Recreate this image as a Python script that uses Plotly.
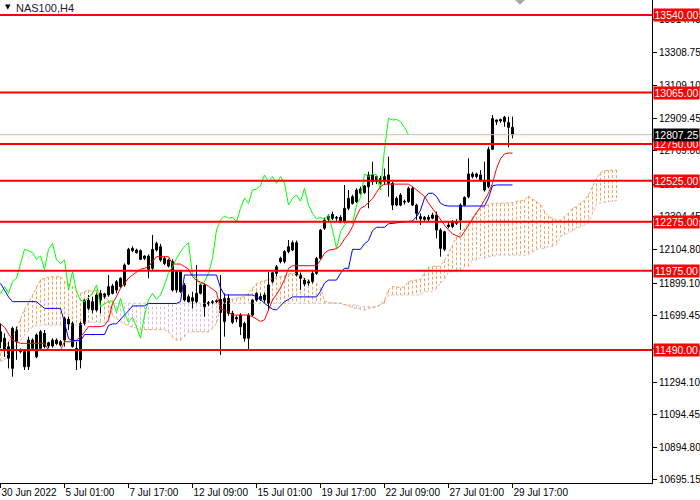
import plotly.graph_objects as go

# NAS100 H4 candles, one entry per bar (left to right)
opens = [
    11602, 11562, 11440, 11378, 11541, 11490, 11480, 11388, 11500, 11449,
    11500, 11592, 11515, 11515, 11551, 11521, 11551, 11678, 11653, 11500,
    11429, 11653, 11745, 11786, 11735, 11837, 11816, 11827, 11882, 11857,
    11878, 11888, 12016, 12112, 12102, 12098, 12049, 12065, 11990, 12102,
    12122, 12051, 12004, 12031, 11857, 11969, 11888, 11816, 11790, 11786,
    11837, 11888, 11780, 11780, 11786, 11800, 11664, 11806, 11715, 11680,
    11704, 11653, 11562, 11704, 11796, 11817, 11796, 11776, 11908, 11959,
    12031, 12031, 12092, 12102, 12147, 11949, 11918, 11900, 11908, 11959,
    12051, 12235, 12290, 12320, 12296, 12302, 12275, 12357, 12428, 12398,
    12449, 12453, 12489, 12561, 12520, 12540, 12520, 12561, 12510, 12377,
    12377, 12395, 12398, 12479, 12377, 12306, 12290, 12302, 12296, 12316,
    12224, 12106, 12245, 12245, 12275, 12286, 12377, 12428, 12567, 12551,
    12530, 12520, 12489, 12718, 12887, 12891, 12914, 12881, 12852]
highs = [
    11653, 11592, 11541, 11633, 11633, 11500, 11490, 11572, 11562, 11592,
    11613, 11613, 11541, 11562, 11562, 11551, 11694, 11694, 11664, 11541,
    11664, 11800, 11827, 11816, 11837, 11857, 11840, 11949, 11895, 11918,
    11935, 12020, 12115, 12125, 12110, 12106, 12070, 12075, 12194, 12153,
    12140, 12060, 12050, 12045, 11975, 11980, 11900, 11830, 11847, 12010,
    11895, 11898, 11790, 11796, 11800, 11949, 11837, 11830, 11730, 11700,
    11715, 11664, 11715, 11800, 11845, 11835, 11840, 11969, 11969, 12010,
    12061, 12102, 12163, 12160, 12160, 11965, 11930, 11920, 11980, 12060,
    12230, 12300, 12320, 12337, 12310, 12315, 12500, 12469, 12440, 12480,
    12490, 12500, 12581, 12642, 12560, 12555, 12600, 12673, 12520, 12430,
    12450, 12410, 12490, 12490, 12385, 12326, 12310, 12315, 12330, 12337,
    12235, 12220, 12275, 12285, 12290, 12387, 12430, 12663, 12580, 12575,
    12591, 12642, 12734, 12928, 12900, 12905, 12922, 12918, 12918]
lows = [
    11500, 11449, 11378, 11327, 11430, 11470, 11368, 11368, 11490, 11440,
    11490, 11500, 11500, 11505, 11520, 11511, 11511, 11613, 11505, 11368,
    11378, 11640, 11735, 11715, 11725, 11715, 11805, 11816, 11830, 11837,
    11870, 11878, 12010, 12090, 12080, 12041, 12040, 11929, 11980, 12092,
    12030, 12010, 11995, 11847, 11840, 11840, 11786, 11780, 11745, 11776,
    11830, 11694, 11760, 11770, 11776, 11460, 11572, 11700, 11650, 11660,
    11582, 11541, 11490, 11694, 11786, 11790, 11780, 11735, 11898, 11940,
    12020, 12020, 12082, 12095, 11940, 11857, 11880, 11885, 11898, 11950,
    12045, 12225, 12280, 12285, 12280, 12265, 12265, 12345, 12380, 12390,
    12440, 12445, 12357, 12500, 12505, 12500, 12500, 12428, 12347, 12370,
    12370, 12380, 12390, 12370, 12286, 12255, 12280, 12280, 12290, 12173,
    12061, 12095, 12235, 12235, 12255, 12224, 12370, 12418, 12540, 12540,
    12520, 12459, 12479, 12714, 12867, 12880, 12856, 12730, 12785]
closes = [
    11541, 11490, 11511, 11623, 11613, 11480, 11388, 11551, 11551, 11582,
    11602, 11511, 11535, 11551, 11530, 11541, 11684, 11649, 11511, 11429,
    11653, 11796, 11796, 11735, 11827, 11796, 11833, 11878, 11837, 11908,
    11929, 12010, 12106, 12098, 12086, 12045, 12065, 11984, 12106, 12143,
    12041, 12020, 12041, 11857, 11969, 11847, 11796, 11786, 11810, 11837,
    11888, 11755, 11772, 11786, 11792, 11720, 11806, 11715, 11660, 11690,
    11633, 11562, 11704, 11796, 11837, 11800, 11827, 11888, 11963, 11999,
    12051, 12092, 12122, 12147, 11949, 11929, 11894, 11908, 11959, 12051,
    12224, 12285, 12310, 12296, 12302, 12275, 12357, 12418, 12387, 12469,
    12475, 12494, 12561, 12520, 12551, 12510, 12551, 12510, 12377, 12418,
    12438, 12400, 12479, 12377, 12326, 12292, 12302, 12290, 12316, 12224,
    12112, 12214, 12255, 12275, 12265, 12377, 12424, 12567, 12551, 12567,
    12561, 12469, 12718, 12907, 12897, 12901, 12887, 12852, 12807.25]

# Ichimoku lines
tenkan = [
    11649, 11630, 11590, 11550, 11541, 11531, 11531, 11531, 11531, 11531,
    11531, 11531, 11490, 11490, 11490, 11490, 11541, 11541, 11541, 11551,
    11572, 11600, 11633, 11633, 11633, 11633, 11640, 11674, 11776, 11817,
    11868, 11898, 11929, 11949, 11969, 11984, 11990, 12000, 12031, 12061,
    12061, 12061, 12061, 12016, 12016, 12016, 12000, 11985, 11940, 11915,
    11905, 11895, 11880, 11860, 11845, 11740, 11735, 11725, 11704, 11704,
    11704, 11704, 11704, 11694, 11680, 11665, 11675, 11735, 11796, 11830,
    11870, 11920, 11990, 12006, 12006, 12006, 12006, 12006, 12006, 12006,
    12040, 12082, 12100, 12105, 12110, 12130, 12170, 12200, 12245, 12310,
    12357, 12370, 12395, 12415, 12455, 12490, 12505, 12505, 12505, 12505,
    12505, 12505, 12505, 12490, 12470, 12450, 12430, 12390, 12355, 12320,
    12290, 12255, 12225, 12200, 12190, 12180, 12215, 12255, 12290, 12330,
    12365, 12410, 12450, 12510, 12600, 12660, 12690, 12695, 12695]
kijun = [
    11898, 11860, 11815, 11786, 11786, 11786, 11786, 11786, 11786, 11786,
    11765, 11745, 11745, 11745, 11745, 11745, 11660, 11560, 11547, 11547,
    11547, 11585, 11585, 11585, 11585, 11585, 11585, 11640, 11650, 11650,
    11680, 11705, 11730, 11760, 11760, 11760, 11760, 11775, 11775, 11775,
    11775, 11775, 11775, 11775, 11775, 11786, 11949, 11949, 11949, 11949,
    11949, 11949, 11949, 11949, 11949, 11870, 11827, 11827, 11827, 11827,
    11827, 11827, 11827, 11827, 11815, 11800, 11776, 11760, 11740, 11735,
    11760, 11786, 11800, 11815, 11815, 11815, 11815, 11815, 11815, 11815,
    11850, 11900, 11918, 11918, 11918, 11960, 11990, 11990, 12106, 12106,
    12106, 12140, 12160, 12220, 12241, 12241, 12241, 12262, 12265, 12268,
    12272, 12275, 12275, 12280, 12305, 12345, 12420, 12449, 12449, 12430,
    12388, 12375, 12371, 12371, 12371, 12371, 12371, 12371, 12371, 12371,
    12371, 12371, 12420, 12495, 12500, 12500, 12500, 12500, 12500]
span_a = [
    11470, 11500, 11540, 11580, 11620, 11680, 11740, 11780, 11827, 11880,
    11920, 11929, 11935, 11939, 11939, 11939, 11910, 11898, 11880, 11857,
    11837, 11847, 11857, 11847, 11857, 11837, 11817, 11796, 11700, 11680,
    11664, 11650, 11640, 11630, 11625, 11615, 11615, 11615, 11615, 11615,
    11615, 11615, 11600, 11570, 11551, 11551, 11572, 11602, 11602, 11602,
    11602, 11602, 11602, 11623, 11653, 11760, 11790, 11796, 11800, 11806,
    11812, 11817, 11837, 11868, 11898, 11908, 11915, 11920, 11929, 11935,
    11939, 11945, 11955, 11959, 11959, 11940, 11929, 11918, 11908, 11898,
    11870, 11790, 11780, 11780, 11778, 11776, 11770, 11760, 11750, 11745,
    11740, 11735, 11745, 11750, 11755, 11766, 11796, 11857, 11878, 11878,
    11870, 11878, 11908, 11915, 11918, 11922, 11960, 11995, 12000, 12004,
    12004, 12040, 12080, 12130, 12180, 12210, 12234, 12265, 12300, 12336,
    12357, 12370, 12380, 12387, 12387, 12387, 12387, 12387, 12391, 12398,
    12402, 12408, 12432, 12415, 12400, 12380, 12340, 12310, 12296, 12285,
    12285, 12306, 12326, 12357, 12367, 12390, 12405, 12440, 12490, 12540,
    12575, 12587, 12590, 12591, 12591]
span_b = [
    11420, 11430, 11470, 11490, 11520, 11550, 11580, 11610, 11630, 11643,
    11643, 11643, 11643, 11643, 11643, 11643, 11643, 11643, 11643, 11643,
    11643, 11660, 11660, 11660, 11660, 11660, 11660, 11660, 11776, 11776,
    11776, 11776, 11776, 11776, 11776, 11776, 11776, 11776, 11776, 11776,
    11776, 11776, 11776, 11776, 11776, 11776, 11776, 11776, 11776, 11776,
    11776, 11776, 11776, 11776, 11776, 11776, 11776, 11776, 11776, 11776,
    11776, 11776, 11776, 11776, 11776, 11776, 11776, 11776, 11776, 11776,
    11776, 11776, 11776, 11776, 11776, 11776, 11776, 11776, 11776, 11776,
    11776, 11776, 11776, 11776, 11776, 11776, 11766, 11766, 11766, 11766,
    11755, 11755, 11755, 11755, 11755, 11770, 11776, 11827, 11827, 11827,
    11827, 11827, 11827, 11827, 11827, 11827, 11847, 11847, 11847, 11867,
    11900, 11918, 11969, 11969, 11969, 11969, 12000, 12000, 12041, 12041,
    12051, 12051, 12061, 12065, 12071, 12071, 12071, 12071, 12071, 12071,
    12071, 12071, 12071, 12090, 12102, 12112, 12112, 12125, 12125, 12133,
    12184, 12195, 12204, 12220, 12235, 12245, 12255, 12265, 12326, 12387,
    12390, 12395, 12398, 12400, 12404]
shift = 26

tick_bars = [0, 16, 32, 48, 64, 80, 96, 112, 128]
tick_text = ["30 Jun 2022", "5 Jul 01:00", "7 Jul 17:00", "12 Jul 09:00",
             "15 Jul 01:00", "19 Jul 17:00", "22 Jul 09:00", "27 Jul 01:00",
             "29 Jul 17:00"]
price_ticks = [13514.45, 13308.75, 13109.10, 12909.45, 12709.80, 12504.10,
               12304.45, 12104.80, 11899.10, 11699.45, 11499.80, 11294.10,
               11094.45, 10894.80, 10695.15]
levels = [13540, 13065, 12750, 12525, 12275, 11975, 11490]
last_price = 12807.25

FONT = "Liberation Sans"
bars = list(range(len(closes)))

fig = go.Figure()

# kumo hatching: one dotted vertical per bar, coloured by which span is on top
hx = {True: [], False: []}
hy = {True: [], False: []}
for i, (a, b) in enumerate(zip(span_a, span_b)):
    hx[a >= b] += [i, i, None]
    hy[a >= b] += [a, b, None]
for up, col in [(True, "#F4A460"), (False, "#D8BFD8")]:
    fig.add_trace(go.Scatter(x=hx[up], y=hy[up], mode="lines",
                             line=dict(color=col, width=1, dash="3px,2px")))
fig.add_trace(go.Scatter(x=list(range(len(span_b))), y=span_b, mode="lines",
                         line=dict(color="#D8BFD8", width=1, dash="3px,2px")))
fig.add_trace(go.Scatter(x=list(range(len(span_a))), y=span_a, mode="lines",
                         line=dict(color="#F4A460", width=1, dash="3px,2px")))

# candles: wicks then bodies
wx, wy = [], []
for i in bars:
    wx += [i, i, None]
    wy += [lows[i], highs[i], None]
fig.add_trace(go.Scatter(x=wx, y=wy, mode="lines",
                         line=dict(color="black", width=1)))
bull = [i for i in bars if closes[i] >= opens[i]]
bear = [i for i in bars if closes[i] < opens[i]]
fig.add_trace(go.Bar(x=bull, base=[opens[i] for i in bull],
                     y=[closes[i] - opens[i] for i in bull], width=0.5,
                     marker=dict(color="white", line=dict(color="black", width=1))))
fig.add_trace(go.Bar(x=bear, base=[closes[i] for i in bear],
                     y=[opens[i] - closes[i] for i in bear], width=0.5,
                     marker=dict(color="black", line=dict(color="black", width=1))))

# chikou is the close drawn 26 bars back
fig.add_trace(go.Scatter(x=bars[:len(closes) - shift], y=closes[shift:],
                         mode="lines", line=dict(color="#00FF00", width=1)))
fig.add_trace(go.Scatter(x=bars, y=tenkan, mode="lines",
                         line=dict(color="#FF0000", width=1)))
fig.add_trace(go.Scatter(x=bars, y=kijun, mode="lines",
                         line=dict(color="#0000FF", width=1)))

shapes = [dict(type="line", xref="paper", x0=0, x1=1, y0=last_price,
               y1=last_price, line=dict(color="#C0C0C0", width=1))]
for lv in levels:
    shapes.append(dict(type="line", xref="paper", x0=0, x1=1, y0=lv, y1=lv,
                       line=dict(color="#FF0000", width=2)))
# chart shift marker
shapes.append(dict(type="path", xref="paper", yref="paper",
                   path="M 0.790,1 L 0.805,1 L 0.7975,0.99 Z",
                   fillcolor="#A8A8A8", line=dict(width=0)))

annotations = []
for lv in levels:
    annotations.append(dict(x=1, xref="paper", y=lv, yref="y", xanchor="left",
                            xshift=1, text="%.2f" % lv, showarrow=False,
                            bgcolor="#FF0000", width=45, borderpad=0,
                            font=dict(family=FONT, size=10.5, color="white")))
annotations.append(dict(x=1, xref="paper", y=last_price, yref="y",
                        xanchor="left", xshift=1, text="%.2f" % last_price,
                        showarrow=False, bgcolor="black", width=45, borderpad=0,
                        font=dict(family=FONT, size=10.5, color="white")))
annotations.append(dict(x=0.004, xref="paper", y=1, yref="paper",
                        xanchor="left", yanchor="top", yshift=-1, text="▼",
                        showarrow=False, font=dict(family="DejaVu Sans", size=7,
                                                   color="black")))
annotations.append(dict(x=0.022, xref="paper", y=1, yref="paper",
                        xanchor="left", yanchor="top", yshift=0,
                        text="NAS100,H4", showarrow=False,
                        font=dict(family=FONT, size=11, color="#1c1c2c")))

fig.update_layout(
    width=700, height=500,
    margin=dict(l=0, r=48, t=0, b=17, autoexpand=False),
    paper_bgcolor="white", plot_bgcolor="white",
    showlegend=False, barmode="overlay", hovermode=False,
    shapes=shapes, annotations=annotations,
    font=dict(family=FONT, size=10, color="black"),
)
fig.update_xaxes(range=[-0.125, 162.875], showgrid=False, zeroline=False,
                 showline=True, linecolor="black", linewidth=1,
                 tickmode="array", tickvals=tick_bars, ticktext=tick_text,
                 ticks="outside", ticklen=4, tickcolor="black", tickangle=0,
                 ticklabelposition="outside right", automargin=False)
fig.update_yaxes(range=[10676.75, 13631.26], side="right", showgrid=False,
                 zeroline=False, showline=True, linecolor="black", linewidth=1,
                 tickmode="array", tickvals=price_ticks,
                 ticktext=["%.2f" % v for v in price_ticks],
                 ticks="outside", ticklen=4, tickcolor="black",
                 automargin=False)

# the page's default body margin would push the 700x500 chart off the window
fig.write_html("out.html", config={"displayModeBar": False},
               post_script="document.body.style.margin='0px';")
